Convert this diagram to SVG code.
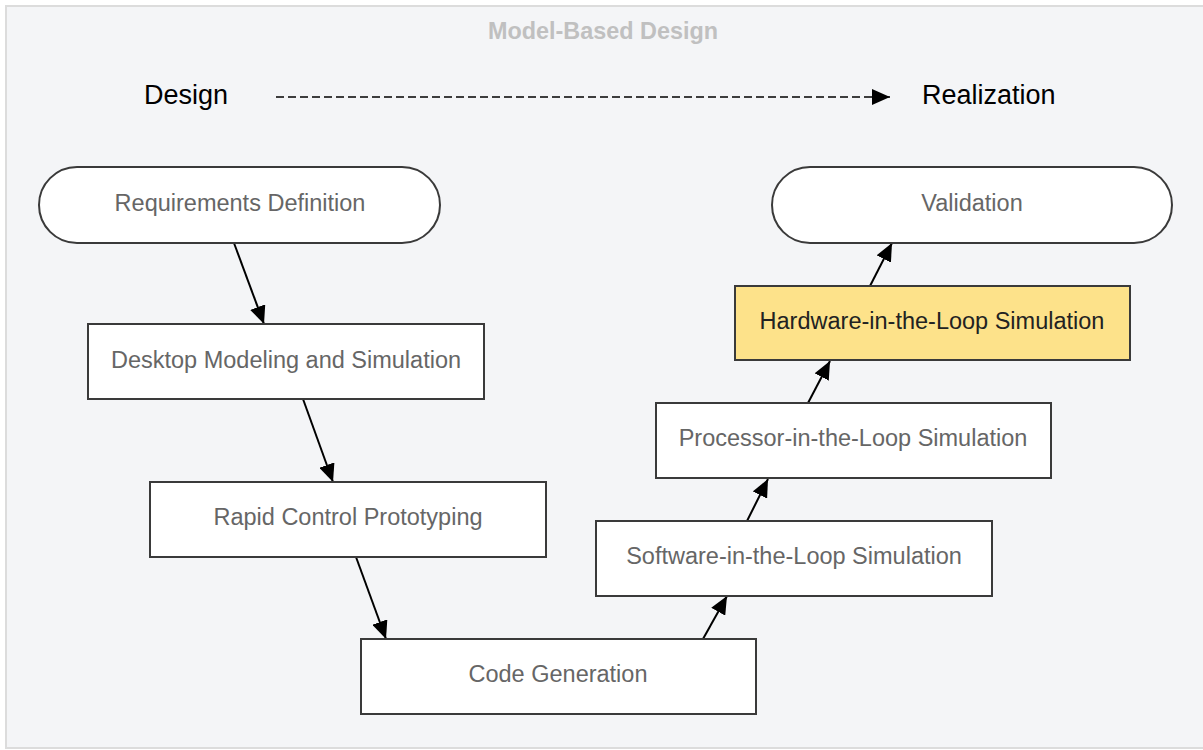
<svg xmlns="http://www.w3.org/2000/svg" width="1203" height="750" viewBox="0 0 1203 750">
<style>
.node{fill:#fff;stroke:#3a3a3a;stroke-width:2}
.hl{fill:#fde28a;stroke:#3a3a3a;stroke-width:2}
.lbl{font-family:"Liberation Sans",Arial,sans-serif;font-size:23.5px;fill:#666;text-anchor:middle;dominant-baseline:central}
.lbl2{font-family:"Liberation Sans",Arial,sans-serif;font-size:23.5px;fill:#222;text-anchor:middle;dominant-baseline:central}
.edge{stroke:#000;stroke-width:2;fill:none;marker-end:url(#ah)}
.axis{font-family:"Liberation Sans",Arial,sans-serif;font-size:27px;fill:#000;dominant-baseline:central}
</style>
<defs>
<marker id="ah" markerWidth="18" markerHeight="16" refX="18" refY="8" orient="auto" markerUnits="userSpaceOnUse">
<path d="M0,0 L18,8 L0,16 Z" fill="#000"/>
</marker>
</defs>
<rect x="6" y="6" width="1200" height="742" fill="#f4f5f7" stroke="#dcdcdc" stroke-width="2"/>
<text x="603" y="31" font-family="'Liberation Sans',Arial,sans-serif" font-size="23.4" font-weight="bold" fill="#c0c0c0" text-anchor="middle" dominant-baseline="central">Model-Based Design</text>
<g id="axis">
<text class="axis" x="144" y="95">Design</text>
<text class="axis" x="922" y="95">Realization</text>
<line x1="276" y1="97" x2="890" y2="97" stroke="#000" stroke-width="1.4" stroke-dasharray="8,4" marker-end="url(#ah)"/>
</g>
<g id="connectors">
<line class="edge" x1="234" y1="243" x2="264" y2="324"/>
<line class="edge" x1="303" y1="399" x2="333" y2="482"/>
<line class="edge" x1="356" y1="557" x2="386" y2="639"/>
<line class="edge" x1="703" y1="639" x2="727" y2="596"/>
<line class="edge" x1="747" y1="521" x2="768" y2="479"/>
<line class="edge" x1="808" y1="403" x2="830" y2="361"/>
<line class="edge" x1="870" y1="286" x2="892" y2="243"/>
</g>
<g id="n-req"><rect class="node" x="39" y="167" width="401" height="76" rx="38" ry="38"/><text class="lbl" x="240" y="203">Requirements Definition</text></g>
<g id="n-desktop"><rect class="node" x="88" y="324" width="396" height="75"/><text class="lbl" x="286" y="360">Desktop Modeling and Simulation</text></g>
<g id="n-rcp"><rect class="node" x="150" y="482" width="396" height="75"/><text class="lbl" x="348" y="517">Rapid Control Prototyping</text></g>
<g id="n-code"><rect class="node" x="361" y="639" width="395" height="75"/><text class="lbl" x="558" y="674">Code Generation</text></g>
<g id="n-sil"><rect class="node" x="596" y="521" width="396" height="75"/><text class="lbl" x="794" y="556">Software-in-the-Loop Simulation</text></g>
<g id="n-pil"><rect class="node" x="656" y="403" width="395" height="75"/><text class="lbl" x="853" y="438">Processor-in-the-Loop Simulation</text></g>
<g id="n-hil"><rect class="hl" x="735" y="286" width="395" height="74"/><text class="lbl2" x="932" y="321">Hardware-in-the-Loop Simulation</text></g>
<g id="n-val"><rect class="node" x="772" y="167" width="400" height="76" rx="38" ry="38"/><text class="lbl" x="972" y="203">Validation</text></g>
</svg>
